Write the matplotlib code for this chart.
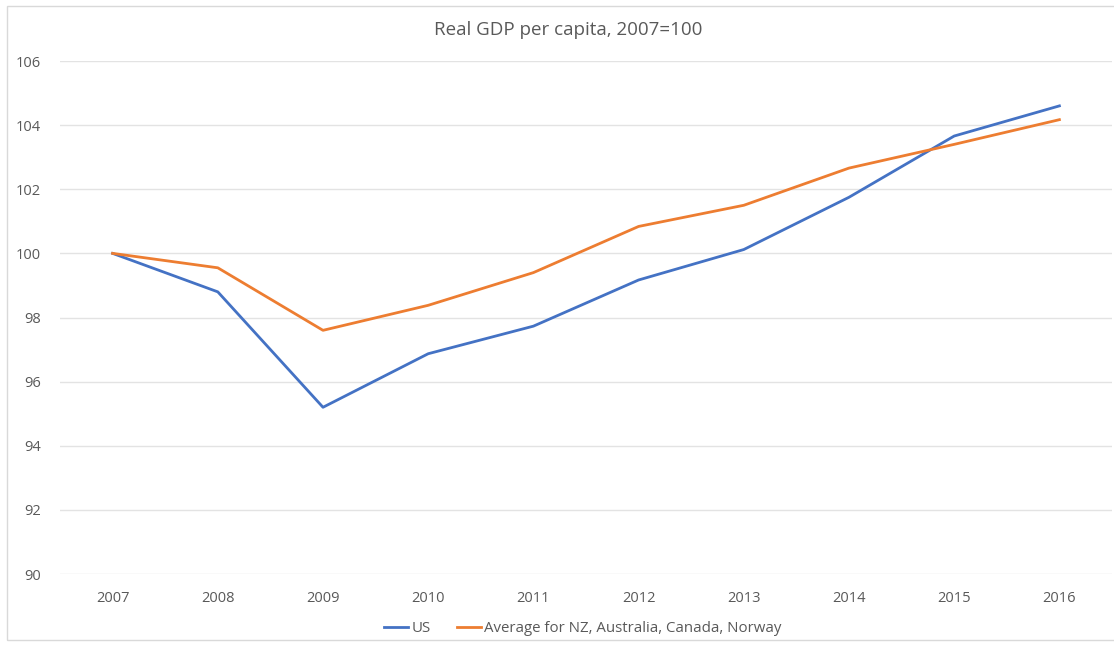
import matplotlib
matplotlib.use("Agg")
import matplotlib.pyplot as plt
from matplotlib.patches import Rectangle
from matplotlib.lines import Line2D

years = ["2007", "2008", "2009", "2010", "2011", "2012", "2013", "2014", "2015", "2016"]
us = [100.0, 98.8, 95.2, 96.87, 97.73, 99.17, 100.12, 101.75, 103.66, 104.6]
avg = [100.0, 99.55, 97.6, 98.38, 99.4, 100.84, 101.5, 102.66, 103.4, 104.17]
yticks = [90, 92, 94, 96, 98, 100, 102, 104, 106]

plt.rcParams['font.family'] = ['Open Sans', 'DejaVu Sans']
W, H = 1114, 646
fig = plt.figure(figsize=(W/100, H/100), dpi=100)
fig.patches.append(Rectangle((7/W, 6/H), 1.2, 634/H, transform=fig.transFigure,
                             fill=False, edgecolor='#d9d9d9', lw=1))

ax = fig.add_axes([60/W, 72/H, 1052/W, 513/H])
x = list(range(len(years)))
ax.plot(x, us, color='#4472C4', lw=2.0, solid_joinstyle='round', label='US', zorder=3)
ax.plot(x, avg, color='#ED7D31', lw=2.0, solid_joinstyle='round',
        label='Average for NZ, Australia, Canada, Norway', zorder=3)

ax.set_xlim(-0.5, len(years) - 0.5)
ax.set_ylim(90, 106)
ax.set_yticks(yticks)
ax.set_yticklabels([str(t) for t in yticks])
ax.set_xticks(x)
ax.set_xticklabels(years)
ax.tick_params(axis='both', length=0, labelsize=10.5, labelcolor='#595959')
ax.tick_params(axis='y', pad=14)
ax.tick_params(axis='x', pad=12)
ax.grid(axis='y', color='#e3e3e3', lw=1)
ax.set_axisbelow(True)
for s in ax.spines.values():
    s.set_visible(False)

fig.text(568/W, 1 - 30/H, 'Real GDP per capita, 2007=100', ha='center', va='center',
         fontsize=13.5, color='#595959')

handles = [Line2D([], [], color='#4472C4', lw=2.0), Line2D([], [], color='#ED7D31', lw=2.0)]
fig.legend(handles, ['US', 'Average for NZ, Australia, Canada, Norway'],
           loc='center', bbox_to_anchor=(583/W, 1 - 629/H), ncol=2, frameon=False,
           fontsize=10.8, labelcolor='#595959', handlelength=1.6, handletextpad=0.2,
           columnspacing=1.8)

fig.savefig('out.png', dpi=100)
